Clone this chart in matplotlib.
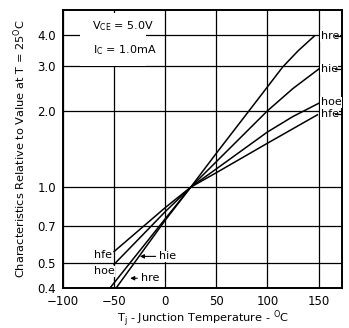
import matplotlib.pyplot as plt
from matplotlib.patches import Rectangle
from matplotlib.ticker import FixedLocator, NullLocator

# h-parameter variation with junction temperature, normalised to 25 C
t_hre = [-48, 0, 25, 50, 82, 115, 130, 146]
v_hre = [0.40, 0.74, 1.0, 1.36, 2.0, 2.98, 3.45, 3.95]

t_hie = [-54, 0, 25, 50, 100, 125, 151]
v_hie = [0.40, 0.75, 1.0, 1.26, 2.0, 2.45, 2.94]

t_hoe = [-50, 0, 25, 50, 100, 125, 151]
v_hoe = [0.496, 0.80, 1.0, 1.18, 1.65, 1.90, 2.15]

t_hfe = [-50, 0, 25, 50, 100, 149]
v_hfe = [0.557, 0.83, 1.0, 1.14, 1.49, 1.93]

x_ticks = [-100, -50, 0, 50, 100, 150]
y_ticks = [0.4, 0.5, 0.7, 1.0, 2.0, 3.0, 4.0]
y_labels = ["0.4", "0.5", "0.7", "1.0", "2.0", "3.0", "4.0"]

tick_font = ["Liberation Sans Narrow", "DejaVu Sans"]

fig = plt.figure(figsize=(3.49, 3.28), dpi=100)
ax = fig.add_axes([0.1805, 0.122, 0.7995, 0.8475])

for t, v in [(t_hre, v_hre), (t_hie, v_hie), (t_hoe, v_hoe), (t_hfe, v_hfe)]:
    ax.plot(t, v, color="black", lw=1.1, zorder=3)

ax.set_yscale("log")
ax.set_xlim(-100, 173)
ax.set_ylim(0.4, 5.0)
ax.xaxis.set_major_locator(FixedLocator(x_ticks))
ax.yaxis.set_major_locator(FixedLocator(y_ticks))
ax.yaxis.set_minor_locator(NullLocator())
ax.set_yticklabels(y_labels)
ax.grid(True, color="black", lw=0.9)
ax.tick_params(length=0, pad=5)
for lab in ax.get_xticklabels() + ax.get_yticklabels():
    lab.set_family(tick_font)
    lab.set_fontsize(8.5)
for s in ax.spines.values():
    s.set_linewidth(1.4)

ax.set_xlabel(r"T$_\mathregular{j}$ - Junction Temperature - $^\mathregular{O}$C",
              fontsize=8.2, labelpad=0)
ax.set_ylabel(r"Characteristics Relative to Value at T = 25$^\mathregular{O}$C",
              fontsize=8.2, labelpad=7)

# test conditions box
ax.add_patch(Rectangle((0.061, 0.80), 0.236, 0.19, transform=ax.transAxes,
                       facecolor="white", edgecolor="none", zorder=2.5))
ax.text(0.104, 0.942, r"V$_\mathregular{CE}$ = 5.0V", transform=ax.transAxes,
        family=tick_font, fontsize=8, va="center", ha="left", zorder=4)
ax.text(0.108, 0.856, r"I$_\mathregular{C}$ = 1.0mA", transform=ax.transAxes,
        family=tick_font, fontsize=8, va="center", ha="left", zorder=4)

# curve labels at the hot end
right_labels = [("hre", 3.95, True), ("hie", 2.92, True), ("hoe", 2.16, False), ("hfe", 1.94, True)]
for name, y, dash in right_labels:
    ax.text(152, y, name, family=tick_font, fontsize=8, va="center", ha="left",
            bbox=dict(facecolor="white", edgecolor="none", pad=0.5), zorder=4)
    if dash:
        ax.plot([166, 172], [y, y], color="black", lw=0.9, zorder=4)

# curve labels at the cold end
ax.text(-70, 0.542, "hfe", family=tick_font, fontsize=8, va="center", ha="left",
        bbox=dict(facecolor="white", edgecolor="none", pad=0.5), zorder=4)
ax.text(-70, 0.465, "hoe", family=tick_font, fontsize=8, va="center", ha="left",
        bbox=dict(facecolor="white", edgecolor="none", pad=0.5), zorder=4)
ax.annotate("hie", xy=(-27.5, 0.533), xytext=(-6, 0.533), family=tick_font, fontsize=8,
            va="center", ha="left",
            arrowprops=dict(arrowstyle="-|>", color="black", lw=0.8, mutation_scale=6),
            bbox=dict(facecolor="white", edgecolor="none", pad=0.5), zorder=4)
ax.annotate("hre", xy=(-37, 0.437), xytext=(-24, 0.437), family=tick_font, fontsize=8,
            va="center", ha="left",
            arrowprops=dict(arrowstyle="-|>", color="black", lw=0.8, mutation_scale=6),
            bbox=dict(facecolor="white", edgecolor="none", pad=0.5), zorder=4)

fig.savefig("out.png", dpi=100)
